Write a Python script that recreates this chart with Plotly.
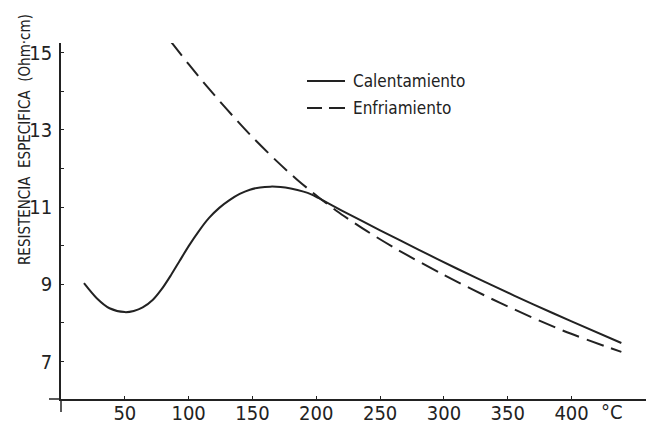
import plotly.graph_objects as go

# ---- data ----
heat_x = [18, 28, 38, 50, 57, 64, 72, 79, 86, 93, 100, 108, 116, 124, 132, 140, 148, 156, 164, 172, 180,
          190, 196, 202, 220, 250, 280, 310, 340, 370, 400, 439]
heat_y = [9.03, 8.64, 8.38, 8.28, 8.31, 8.40, 8.60, 8.88, 9.23, 9.61, 9.99, 10.38, 10.72, 10.98, 11.18, 11.34,
          11.45, 11.51, 11.53, 11.52, 11.48, 11.40, 11.33, 11.23, 10.91, 10.40, 9.90, 9.41, 8.94, 8.48, 8.04, 7.48]

cool_x = [86, 100, 115, 130, 148, 169, 185, 202, 216, 240, 263, 300, 344, 394, 439]
cool_y = [15.29, 14.70, 14.10, 13.53, 12.88, 12.19, 11.71, 11.25, 10.90, 10.37, 9.91, 9.24, 8.52, 7.79, 7.25]

x_ticks = [50, 100, 150, 200, 250, 300, 350, 400]
x_tick_labels = ["50", "100", "150", "200", "250", "300", "350", "400"]
y_ticks = [7, 8, 9, 10, 11, 12, 13, 14, 15]
y_tick_labels = ["7", "", "9", "", "11", "", "13", "", "15"]

series_names = ["Calentamiento", "Enfriamiento"]
y_title = "RESISTENCIA  ESPECIFICA  (Ohm·cm)"
x_unit = "°C"

W, H = 648, 424
L, R, T, B = 61, 2, 43, 25
PW, PH = W - L - R, H - T - B

def px(x):
    return (x - L) / PW

def py(y):
    return (H - B - y) / PH

INK = "#222222"
FONT = "DejaVu Sans Condensed, Liberation Sans Narrow, sans-serif"

fig = go.Figure()
fig.add_trace(go.Scatter(x=heat_x, y=heat_y, mode="lines", name=series_names[0],
                         line=dict(color=INK, width=2, shape="spline", smoothing=0.8)))
fig.add_trace(go.Scatter(x=cool_x, y=cool_y, mode="lines", name=series_names[1],
                         line=dict(color=INK, width=2, shape="spline", smoothing=0.8, dash="18px,8px")))

shapes = [
    # axis overhangs
    dict(type="line", xref="paper", yref="paper", x0=px(49), x1=0, y0=0, y1=0, line=dict(color=INK, width=1.5)),
    dict(type="line", xref="paper", yref="paper", x0=0, x1=0, y0=py(412), y1=0, line=dict(color=INK, width=1.5)),
    # legend samples
    dict(type="line", xref="paper", yref="paper", x0=px(307), x1=px(345), y0=py(81), y1=py(81), line=dict(color=INK, width=2)),
    dict(type="line", xref="paper", yref="paper", x0=px(307), x1=px(322), y0=py(108), y1=py(108), line=dict(color=INK, width=2)),
    dict(type="line", xref="paper", yref="paper", x0=px(329), x1=px(345), y0=py(108), y1=py(108), line=dict(color=INK, width=2)),
]

annotations = [
    dict(text=series_names[0], xref="paper", yref="paper", x=px(351), y=py(81), xanchor="left", yanchor="middle",
         showarrow=False, font=dict(family=FONT, size=17, color=INK)),
    dict(text=series_names[1], xref="paper", yref="paper", x=px(351), y=py(108), xanchor="left", yanchor="middle",
         showarrow=False, font=dict(family=FONT, size=17, color=INK)),
    dict(text=y_title, xref="paper", yref="paper", x=px(25), y=py(140), xanchor="center", yanchor="middle",
         textangle=-90, showarrow=False, font=dict(family=FONT, size=15, color=INK)),
    dict(text=x_unit, xref="x", yref="paper", x=432, y=py(412), xanchor="center", yanchor="middle",
         showarrow=False, font=dict(family=FONT, size=20, color=INK)),
]

fig.update_layout(
    template="none",
    width=W, height=H,
    margin=dict(l=L, r=R, t=T, b=B, pad=0),
    paper_bgcolor="white", plot_bgcolor="white",
    showlegend=False,
    shapes=shapes,
    annotations=annotations,
    font=dict(family=FONT, color=INK),
    xaxis=dict(range=[0, 458.3], showgrid=False, zeroline=False, showline=True, linecolor=INK, linewidth=1.5,
               tickmode="array", tickvals=x_ticks, ticktext=x_tick_labels, ticks="inside", ticklen=3,
               tickcolor=INK, tickfont=dict(family=FONT, size=20, color=INK), automargin=False,
               ticklabelstandoff=-5),
    yaxis=dict(range=[6.03, 15.25], showgrid=False, zeroline=False, showline=True, linecolor=INK, linewidth=1.5,
               tickmode="array", tickvals=y_ticks, ticktext=y_tick_labels, ticks="inside", ticklen=3,
               tickcolor=INK, tickfont=dict(family=FONT, size=20, color=INK), automargin=False,
               ticklabelstandoff=3),
)

fig.write_html("out.html", config={"displayModeBar": False},
               post_script="document.body.style.margin='0';document.body.style.overflow='hidden';")
